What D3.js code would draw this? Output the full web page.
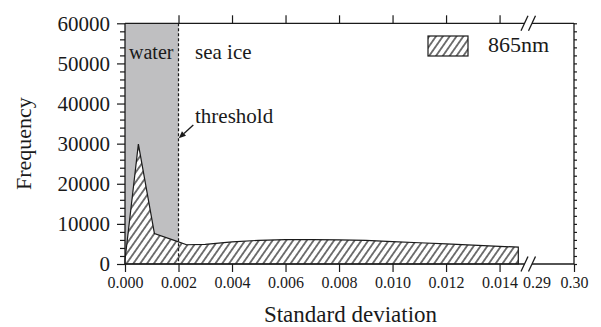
<!DOCTYPE html>
<html><head><meta charset="utf-8">
<script src="https://cdn.jsdelivr.net/npm/d3@7"></script>
</head><body style="margin:0;background:#fff"><svg width="601" height="327" font-family="Liberation Serif" style="display:block"></svg>
<script>
// ---- data ----
const stdDev    = [0, 0.0005, 0.0011, 0.002, 0.0023, 0.003, 0.004, 0.005, 0.006, 0.007, 0.008, 0.009, 0.010, 0.011, 0.012, 0.013, 0.014, 0.0147];
const frequency = [1000, 29900, 7600, 5500, 4800, 4900, 5500, 5900, 6100, 6100, 6000, 5900, 5600, 5300, 5000, 4700, 4400, 4200];
const xTicksMain  = [0, 0.002, 0.004, 0.006, 0.008, 0.010, 0.012, 0.014];
const xTicksBreak = [0.29, 0.30];
const yTicks      = [0, 10000, 20000, 30000, 40000, 50000, 60000];
const yMinorTicks = d3.range(0, 60001, 2000).filter(v => v % 10000 !== 0);
const threshold   = 0.002;
const seriesName  = "865nm";
const xTitle = "Standard deviation", yTitle = "Frequency";

// ---- layout ----
const FONT = "Liberation Serif";
const L = 125, R = 574, T = 23.3, B = 264;
const breakA = 524.5, breakB = 532;
const svg = d3.select("svg");
const ink = "#1a1a1a";

const xMain  = d3.scaleLinear().domain([0, 0.0151]).range([L, 529]);
const xBreak = d3.scaleLinear().domain([0.29, 0.30]).range([536.5, R]);
const y = d3.scaleLinear().domain([0, 60000]).range([B, T]);

// hatch pattern
const defs = svg.append("defs");
const pat = defs.append("pattern").attr("id", "hatch")
  .attr("patternUnits", "userSpaceOnUse").attr("width", 5.6).attr("height", 10)
  .attr("patternTransform", "rotate(35)");
pat.append("rect").attr("width", 5.6).attr("height", 10).attr("fill", "#fff");
pat.append("line").attr("x1", 2.8).attr("x2", 2.8).attr("y1", -1).attr("y2", 11)
  .attr("stroke", ink).attr("stroke-width", 1.2);

// water region
svg.append("rect").attr("x", xMain(0)).attr("y", T)
  .attr("width", xMain(threshold) - xMain(0)).attr("height", B - T)
  .attr("fill", "#bfbfc1");

// histogram area
const pts = stdDev.map((x, i) => ({x, f: frequency[i]}));
const area = d3.area().x(d => xMain(d.x)).y0(y(0)).y1(d => y(d.f));
svg.append("path").datum(pts).attr("d", area)
  .attr("fill", "url(#hatch)").attr("stroke", ink).attr("stroke-width", 1.2)
  .attr("stroke-linejoin", "miter");

// threshold dashed line
svg.append("line").attr("x1", xMain(threshold)).attr("x2", xMain(threshold))
  .attr("y1", T).attr("y2", B).attr("stroke", ink).attr("stroke-width", 1.2)
  .attr("stroke-dasharray", "3,2");

// axes
function styleAxis(g) {
  g.attr("font-family", FONT);
  g.select(".domain").remove();
  g.selectAll(".tick line").attr("stroke", ink).attr("stroke-width", 1.2);
  g.selectAll("text").attr("fill", ink).attr("font-family", FONT);
}
svg.append("g").attr("transform", `translate(0,${B})`)
  .call(d3.axisBottom(xMain).tickValues(xTicksMain).tickSize(8).tickPadding(5).tickFormat(d3.format(".3f")))
  .call(styleAxis).call(g => g.selectAll("text").attr("font-size", 16));
svg.append("g").attr("transform", `translate(0,${B})`)
  .call(d3.axisBottom(xBreak).tickValues(xTicksBreak).tickSize(8).tickPadding(5).tickFormat(d3.format(".2f")))
  .call(styleAxis).call(g => {
    g.selectAll("text").attr("font-size", 16);
    g.selectAll(".tick line").filter(d => d === 0.29).remove();
  });
svg.append("g").attr("transform", `translate(0,${T})`)
  .call(d3.axisTop(xMain).tickValues(xTicksMain.slice(1)).tickSize(8).tickFormat(""))
  .call(styleAxis);
svg.append("g").attr("transform", `translate(${L},0)`)
  .call(d3.axisLeft(y).tickValues(yTicks).tickSize(8).tickPadding(7).tickFormat(d3.format("d")))
  .call(styleAxis).call(g => g.selectAll("text").attr("font-size", 21));
svg.append("g").attr("transform", `translate(${L},0)`)
  .call(d3.axisLeft(y).tickValues(yMinorTicks).tickSize(5).tickFormat(""))
  .call(styleAxis);
svg.append("g").attr("transform", `translate(${R},0)`)
  .call(d3.axisRight(y).tickValues(yMinorTicks.concat(yTicks)).tickSize(3).tickFormat(""))
  .call(styleAxis);

// frame with breaks
const frame = svg.append("g").attr("stroke", ink).attr("stroke-width", 1.3).attr("fill", "none");
frame.append("line").attr("x1", L).attr("x2", L).attr("y1", T).attr("y2", B);
frame.append("line").attr("x1", R).attr("x2", R).attr("y1", T).attr("y2", B);
[B, T].forEach(yy => {
  frame.append("line").attr("x1", L).attr("x2", breakA).attr("y1", yy).attr("y2", yy);
  frame.append("line").attr("x1", breakB).attr("x2", R).attr("y1", yy).attr("y2", yy);
  [breakA, breakB].forEach(bx => {
    frame.append("line").attr("x1", bx - 3.5).attr("y1", yy + 7.5)
      .attr("x2", bx + 3.5).attr("y2", yy - 7.5);
  });
});

// annotations
const txt = (x, y, s, size) => svg.append("text").attr("x", x).attr("y", y)
  .attr("font-family", FONT).attr("font-size", size).attr("fill", ink).text(s);
txt(129, 59, "water", 20);
txt(195, 59, "sea ice", 21);
txt(195, 122.5, "threshold", 21);
// arrow
const a0 = [193.3, 125], a1 = [178.8, 138.2];
const dx = a1[0] - a0[0], dy = a1[1] - a0[1], len = Math.hypot(dx, dy);
const ux = dx / len, uy = dy / len, hl = 7, hw = 3;
const bx = a1[0] - ux * hl, by = a1[1] - uy * hl;
svg.append("line").attr("x1", a0[0]).attr("y1", a0[1]).attr("x2", bx).attr("y2", by)
  .attr("stroke", ink).attr("stroke-width", 1.3);
svg.append("path").attr("d", `M${a1[0]},${a1[1]}L${bx - uy * hw},${by + ux * hw}L${bx + uy * hw},${by - ux * hw}Z`)
  .attr("fill", ink);

// legend
svg.append("rect").attr("x", 428).attr("y", 36).attr("width", 40).attr("height", 20)
  .attr("fill", "url(#hatch)").attr("stroke", ink).attr("stroke-width", 1.2);
txt(488, 52, seriesName, 22);

// axis titles
txt((L + R) / 2 + 1, 322, xTitle, 23).attr("text-anchor", "middle");
svg.append("text").attr("transform", `translate(31,${(T + B) / 2}) rotate(-90)`)
  .attr("text-anchor", "middle").attr("font-family", FONT).attr("font-size", 22)
  .attr("fill", ink).text(yTitle);
</script>
</body></html>
